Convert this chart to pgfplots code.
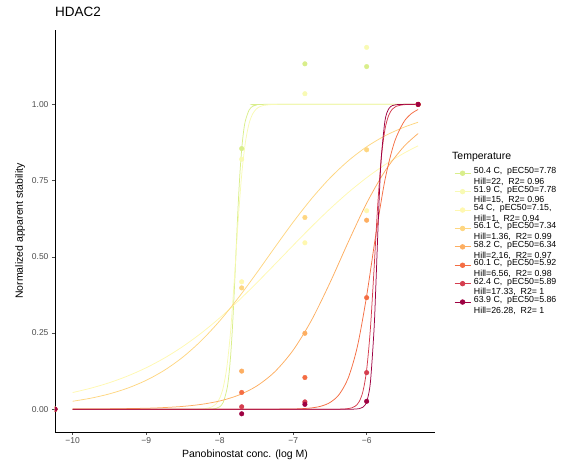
\documentclass[border=0pt]{standalone}
\usepackage{pgfplots}
\pgfplotsset{compat=1.18}
\usepackage{fontspec}
\setmainfont{Liberation Sans}

\definecolor{cA}{HTML}{D9EE8B}
\definecolor{cB}{HTML}{F8FAB4}
\definecolor{cC}{HTML}{FFF8B0}
\definecolor{cD}{HTML}{FED681}
\definecolor{cE}{HTML}{FDAE61}
\definecolor{cF}{HTML}{F46D43}
\definecolor{cG}{HTML}{D53E4F}
\definecolor{cH}{HTML}{9E0142}
\definecolor{tickgrey}{HTML}{4D4D4D}

% two-line legend text, row height comes from the legend node style
\newcommand{\lentry}[2]{\smash{\raisebox{-6pt}{\begin{tabular}[c]{@{}l@{}}#1\\#2\end{tabular}}}}

\begin{document}
\begin{tikzpicture}
\useasboundingbox (-55pt,-30pt) rectangle (508pt,432pt);
\begin{axis}[
    at={(0pt,0pt)}, anchor=south west,
    scale only axis,
    width=380pt, height=402pt,
    xmin=-10.24, xmax=-5.07,
    ymin=-0.0747, ymax=1.244,
    axis lines*=left,
    axis line style={black, line width=0.6pt},
    tick align=outside,
    major tick length=3pt,
    tick style={tickgrey, line width=0.5pt},
    clip marker paths=true,
    xtick={-10,-9,-8,-7,-6},
    xticklabels={−10,−9,−8,−7,−6},
    ytick={0,0.25,0.5,0.75,1},
    yticklabels={0.00,0.25,0.50,0.75,1.00},
    ticklabel style={font=\fontsize{8.5}{9}\selectfont, text=tickgrey},
    xticklabel style={yshift=1pt},
    /pgf/number format/assume math mode=true,
    xlabel={Panobinostat conc. (log M)},
    ylabel={Normalized apparent stability},
    label style={font=\fontsize{10.5}{12}\selectfont},
    xlabel style={at={(axis description cs:0.5,-0.057)}, anchor=center},
    ylabel style={at={(axis description cs:-0.092,0.5)}, anchor=center},
    title={HDAC2},
    title style={at={(axis description cs:0,1)}, anchor=base west, inner sep=0pt, yshift=7pt, font=\fontsize{13.5}{15}\selectfont},
    legend style={at={(rel axis cs:1.05,0.667)}, anchor=north west, draw=none, fill=none,
        inner sep=0pt, row sep=0pt, column sep=3pt,
        nodes={inner sep=0pt, text height=9.2pt, text depth=9.2pt, font=\fontsize{8.8}{10.8}\selectfont}},
    legend cell align=left,
    legend image code/.code={\draw[mark repeat=2,mark phase=2] plot coordinates {(0pt,0pt)(8pt,0pt)(16pt,0pt)};},
]

% fitted curves
\addplot[cA, line width=0.75pt, smooth, forget plot] coordinates {
(-10,0) (-8.3,0) (-8.2,0.0001) (-8.1,0.0009) (-8.05,0.0026) (-8,0.0078) (-7.95,0.0232) (-7.9,0.0667) (-7.875,0.110) (-7.85,0.177) (-7.825,0.271) (-7.8,0.392) (-7.78,0.5) (-7.75,0.659) (-7.725,0.770) (-7.7,0.853) (-7.675,0.910) (-7.65,0.946) (-7.6,0.981) (-7.55,0.994) (-7.5,0.998) (-7.4,1) (-5.3,1)};
\addplot[cB, line width=0.75pt, smooth, forget plot] coordinates {
(-10,0) (-8.4,0.0001) (-8.3,0.0004) (-8.2,0.0018) (-8.1,0.0082) (-8.05,0.0171) (-8,0.0356) (-7.95,0.0725) (-7.9,0.142) (-7.85,0.259) (-7.8,0.426) (-7.75,0.611) (-7.7,0.769) (-7.65,0.875) (-7.6,0.937) (-7.55,0.969) (-7.5,0.985) (-7.45,0.993) (-7.4,0.9967) (-7.3,0.9993) (-7.2,1) (-5.3,1)};
\addplot[cC, line width=0.75pt, smooth, forget plot] coordinates {
(-10,0.0547) (-9.75,0.0692) (-9.5,0.0870) (-9.25,0.1091) (-9,0.1359) (-8.75,0.1680) (-8.5,0.2059) (-8.25,0.2497) (-8,0.2994) (-7.75,0.3543) (-7.5,0.4134) (-7.25,0.4750) (-7,0.5374) (-6.75,0.5987) (-6.5,0.6570) (-6.25,0.7109) (-6,0.7595) (-5.75,0.8022) (-5.5,0.8389) (-5.3,0.8641)};
\addplot[cD, line width=0.75pt, smooth, forget plot] coordinates {
(-10,0.0261) (-9.75,0.0363) (-9.5,0.0503) (-9.25,0.0693) (-9,0.0947) (-8.75,0.1281) (-8.5,0.1711) (-8.25,0.2248) (-8,0.2895) (-7.75,0.3640) (-7.5,0.4457) (-7.25,0.5306) (-7,0.6136) (-6.75,0.6905) (-6.5,0.7581) (-6.25,0.8149) (-6,0.8609) (-5.75,0.8969) (-5.5,0.9243) (-5.3,0.9413)};
\addplot[cE, line width=0.75pt, smooth, forget plot] coordinates {
(-10,0.0004) (-9.5,0.0011) (-9,0.0032) (-8.75,0.0055) (-8.5,0.0093) (-8.25,0.0159) (-8,0.0270) (-7.75,0.0454) (-7.5,0.0754) (-7.25,0.1228) (-7,0.1937) (-6.75,0.2919) (-6.5,0.4144) (-6.25,0.5485) (-6,0.6758) (-5.75,0.7815) (-5.5,0.8599) (-5.3,0.9043)};
\addplot[cF, line width=0.75pt, smooth, forget plot] coordinates {
(-10,0) (-8,0) (-7.5,0) (-7.25,0.0002) (-7,0.0008) (-6.875,0.0019) (-6.75,0.0043) (-6.625,0.0097) (-6.5,0.0218) (-6.375,0.0481) (-6.25,0.1029) (-6.125,0.2067) (-6,0.3717) (-5.875,0.5732) (-5.75,0.7531) (-5.625,0.8738) (-5.5,0.9402) (-5.4,0.9680) (-5.3,0.9832)};
\addplot[cG, line width=0.75pt, smooth, forget plot] coordinates {
(-10,0) (-8,0) (-7,0) (-6.5,0) (-6.3,0.0008) (-6.2,0.0046) (-6.15,0.0109) (-6.1,0.0256) (-6.05,0.0588) (-6,0.1294) (-5.95,0.2612) (-5.9,0.4568) (-5.85,0.6667) (-5.8,0.8263) (-5.75,0.9188) (-5.7,0.9641) (-5.65,0.9846) (-5.6,0.9935) (-5.5,0.9988) (-5.4,0.9998) (-5.3,1)};
\addplot[cH, line width=0.75pt, smooth, forget plot] coordinates {
(-10,0) (-8,0) (-7,0) (-6.5,0) (-6.3,0) (-6.2,0.0001) (-6.15,0.0005) (-6.1,0.0018) (-6.05,0.0067) (-6,0.0246) (-5.95,0.0859) (-5.9,0.2590) (-5.875,0.4028) (-5.85,0.5653) (-5.825,0.7150) (-5.8,0.8288) (-5.75,0.9474) (-5.7,0.9853) (-5.65,0.9960) (-5.6,0.9989) (-5.5,1) (-5.3,1)};

% measured points
\addplot[cA, only marks, mark=*, mark size=2.3pt, forget plot] coordinates {(-10.24,0) (-7.7,0.855) (-6.84,1.133) (-6,1.124) (-5.3,1)};
\addplot[cB, only marks, mark=*, mark size=2.3pt, forget plot] coordinates {(-10.24,0) (-7.7,0.82) (-6.84,1.035) (-6,1.187) (-5.3,1)};
\addplot[cC, only marks, mark=*, mark size=2.3pt, forget plot] coordinates {(-10.24,0) (-7.7,0.418) (-6.84,0.546) (-6,0.651) (-5.3,1)};
\addplot[cD, only marks, mark=*, mark size=2.3pt, forget plot] coordinates {(-10.24,0) (-7.7,0.398) (-6.84,0.629) (-6,0.851) (-5.3,1)};
\addplot[cE, only marks, mark=*, mark size=2.3pt, forget plot] coordinates {(-10.24,0) (-7.7,0.125) (-6.84,0.249) (-6,0.62) (-5.3,1)};
\addplot[cF, only marks, mark=*, mark size=2.3pt, forget plot] coordinates {(-10.24,0) (-7.7,0.055) (-6.84,0.104) (-6,0.366) (-5.3,1)};
\addplot[cG, only marks, mark=*, mark size=2.3pt, forget plot] coordinates {(-10.24,0) (-7.7,0.008) (-6.84,0.024) (-6,0.12) (-5.3,1)};
\addplot[cH, only marks, mark=*, mark size=2.3pt, forget plot] coordinates {(-10.24,0) (-7.7,-0.015) (-6.84,0.016) (-6,0.026) (-5.3,1)};

% legend keys
\addlegendimage{cA, line width=0.75pt, mark=*, mark size=2.3pt}
\addlegendentry{\lentry{50.4 C,~~pEC50=7.78}{Hill=22,~~R2= 0.96}}
\addlegendimage{cB, line width=0.75pt, mark=*, mark size=2.3pt}
\addlegendentry{\lentry{51.9 C,~~pEC50=7.78}{Hill=15,~~R2= 0.96}}
\addlegendimage{cC, line width=0.75pt, mark=*, mark size=2.3pt}
\addlegendentry{\lentry{54 C,~~pEC50=7.15,}{Hill=1,~~R2= 0.94}}
\addlegendimage{cD, line width=0.75pt, mark=*, mark size=2.3pt}
\addlegendentry{\lentry{56.1 C,~~pEC50=7.34}{Hill=1.36,~~R2= 0.99}}
\addlegendimage{cE, line width=0.75pt, mark=*, mark size=2.3pt}
\addlegendentry{\lentry{58.2 C,~~pEC50=6.34}{Hill=2.16,~~R2= 0.97}}
\addlegendimage{cF, line width=0.75pt, mark=*, mark size=2.3pt}
\addlegendentry{\lentry{60.1 C,~~pEC50=5.92}{Hill=6.56,~~R2= 0.98}}
\addlegendimage{cG, line width=0.75pt, mark=*, mark size=2.3pt}
\addlegendentry{\lentry{62.4 C,~~pEC50=5.89}{Hill=17.33,~~R2= 1}}
\addlegendimage{cH, line width=0.75pt, mark=*, mark size=2.3pt}
\addlegendentry{\lentry{63.9 C,~~pEC50=5.86}{Hill=26.28,~~R2= 1}}
\end{axis}
% legend title, outside the clipped axis
\node[anchor=west, inner sep=0pt, font=\fontsize{10.5}{12}\selectfont] at (397pt,275pt) {Temperature};
\end{tikzpicture}
\end{document}
